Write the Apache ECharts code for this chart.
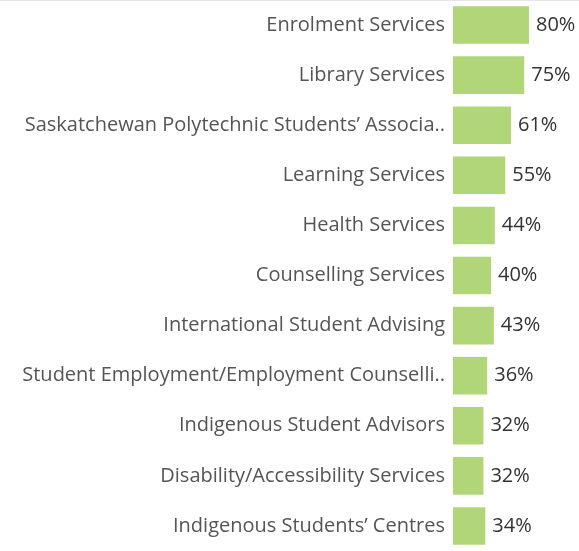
<!DOCTYPE html>
<html><head><meta charset="utf-8">
<script src="https://cdn.jsdelivr.net/npm/echarts@6/dist/echarts.min.js"></script>
<style>html,body{margin:0;padding:0;background:#fff}#c{width:579px;height:551px}</style>
</head><body><div id="c"></div>
<script>
const categories = [
  "Enrolment Services",
  "Library Services",
  "Saskatchewan Polytechnic Students’ Associa..",
  "Learning Services",
  "Health Services",
  "Counselling Services",
  "International Student Advising",
  "Student Employment/Employment Counselli..",
  "Indigenous Student Advisors",
  "Disability/Accessibility Services",
  "Indigenous Students’ Centres"
];
const values = [80, 75, 61, 55, 44, 40, 43, 36, 32, 32, 34];

const chart = echarts.init(document.getElementById('c'));
chart.setOption({
  animation: false,
  grid: { left: 453, top: 0, width: 95, height: 556 },
  xAxis: { type: 'value', min: 0, max: 100, show: false },
  yAxis: {
    type: 'category', data: categories, inverse: true,
    axisLine: { show: false }, axisTick: { show: false },
    axisLabel: { margin: 8, color: '#555', fontSize: 20, fontFamily: 'Open Sans' }
  },
  graphic: [{ type: 'rect', shape: { x: 0, y: 0, width: 579, height: 1 }, style: { fill: '#e6e6e6' } }],
  series: [{
    type: 'bar', data: values, barCategoryGap: '25%',
    itemStyle: { color: '#b1d679' },
    label: { show: true, position: 'right', distance: 7, formatter: '{c}%', color: '#333', fontSize: 20, fontFamily: 'Open Sans' }
  }]
});
</script></body></html>
